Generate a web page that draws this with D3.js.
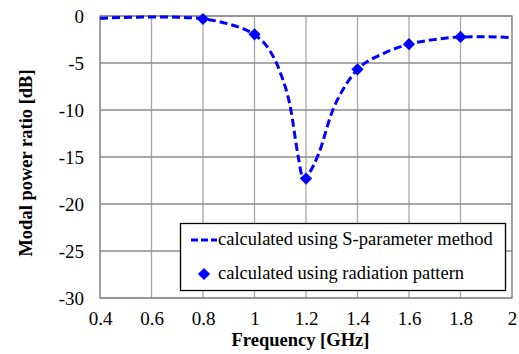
<!DOCTYPE html>
<html><head><meta charset="utf-8">
<script src="https://cdn.jsdelivr.net/npm/d3@7"></script>
<style>body{margin:0;background:#fff}svg{display:block}text{font-family:"Liberation Serif","Times New Roman",Times,serif}</style>
</head><body>
<svg id="c" width="519" height="354"></svg>
<script>
const xTicks = [0.4,0.6,0.8,1.0,1.2,1.4,1.6,1.8,2.0];
const xTickLabels = ["0.4","0.6","0.8","1","1.2","1.4","1.6","1.8","2"];
const yTicks = [0,-5,-10,-15,-20,-25,-30];
const yTickLabels = ["0","-5","-10","-15","-20","-25","-30"];
const curveFreq = [0.4,0.5,0.6,0.7,0.8,0.9,0.95,1.0,1.05,1.1,1.14,1.17,1.19,1.21,1.25,1.3,1.36,1.4,1.5,1.6,1.7,1.8,1.9,2.0];
const curveDb   = [-0.25,-0.15,-0.1,-0.13,-0.3,-0.85,-1.3,-2.0,-3.3,-6.0,-9.8,-15.0,-17.4,-16.8,-14.6,-10.3,-7.1,-5.7,-4.0,-3.0,-2.5,-2.23,-2.2,-2.3];
const patFreq = [0.8,1.0,1.2,1.4,1.6,1.8];
const patDb   = [-0.32,-1.95,-17.3,-5.67,-3.0,-2.23];
const legendLabels = ["calculated using S-parameter method","calculated using radiation pattern"];

const svg = d3.select("#c");
const x = d3.scaleLinear().domain([0.4,2.0]).range([100,512]);
const y = d3.scaleLinear().domain([-30,0]).range([298,16]);
const FONT = '"Liberation Serif","Times New Roman",Times,serif';

// grid
svg.append("g").selectAll("line").data(xTicks).join("line")
  .attr("x1",d=>x(d)).attr("x2",d=>x(d)).attr("y1",y(0)).attr("y2",y(-30))
  .attr("stroke","#a6a6a6").attr("stroke-width",1.3);
svg.append("g").selectAll("line").data(yTicks).join("line")
  .attr("x1",x(0.4)).attr("x2",x(2.0)).attr("y1",d=>y(d)).attr("y2",d=>y(d))
  .attr("stroke","#8c8c8c").attr("stroke-width",1.3);
svg.append("rect").attr("x",x(0.4)).attr("y",y(0)).attr("width",x(2)-x(0.4)).attr("height",y(-30)-y(0))
  .attr("fill","none").attr("stroke","#8c8c8c").attr("stroke-width",1.3);

// axes labels via d3 axes
const xa = svg.append("g").attr("transform",`translate(0,${y(-30)})`)
  .call(d3.axisBottom(x).tickValues(xTicks).tickFormat((d,i)=>xTickLabels[i]).tickSize(0).tickPadding(14));
xa.attr("font-family",FONT);
xa.select(".domain").remove();
xa.selectAll("text").attr("font-size",19).attr("fill","#000");
const ya = svg.append("g").attr("transform",`translate(${x(0.4)},0)`)
  .call(d3.axisLeft(y).tickValues(yTicks).tickFormat((d,i)=>yTickLabels[i]).tickSize(0).tickPadding(16));
ya.attr("font-family",FONT);
ya.select(".domain").remove();
ya.selectAll("text").attr("font-size",19).attr("fill","#000");

// titles
svg.append("text").attr("x",300.5).attr("y",346).attr("text-anchor","middle")
  .attr("font-size",18.5).attr("font-weight","bold").text("Frequency [GHz]");
svg.append("text").attr("transform","translate(32,163) rotate(-90)").attr("text-anchor","middle")
  .attr("font-size",18.5).attr("font-weight","bold").text("Modal power ratio [dB]");

// curve
const line = d3.line().x((d,i)=>x(curveFreq[i])).y(d=>y(d)).curve(d3.curveMonotoneX);
svg.append("path").attr("d",line(curveDb)).attr("fill","none").attr("stroke","#0000ff")
  .attr("stroke-width",3).attr("stroke-dasharray","8,4");

const diamond = d3.symbol().type(d3.symbolDiamond2).size(95);
svg.append("g").selectAll("path").data(patDb).join("path")
  .attr("d",diamond).attr("transform",(d,i)=>`translate(${x(patFreq[i])},${y(d)})`)
  .attr("fill","#0000ff");

// legend
const lg = svg.append("g");
lg.append("rect").attr("x",180.5).attr("y",223.5).attr("width",325).attr("height",67)
  .attr("fill","#fff").attr("stroke","#000").attr("stroke-width",1.3);
lg.append("line").attr("x1",191).attr("x2",217).attr("y1",240).attr("y2",240)
  .attr("stroke","#0000ff").attr("stroke-width",3).attr("stroke-dasharray","7,3");
lg.append("path").attr("d",diamond).attr("transform","translate(204,274)").attr("fill","#0000ff");
lg.selectAll("text").data(legendLabels).join("text")
  .attr("x",218).attr("y",(d,i)=>245+i*34).attr("font-size",18.5).attr("fill","#000").text(d=>d);
</script>
</body></html>
